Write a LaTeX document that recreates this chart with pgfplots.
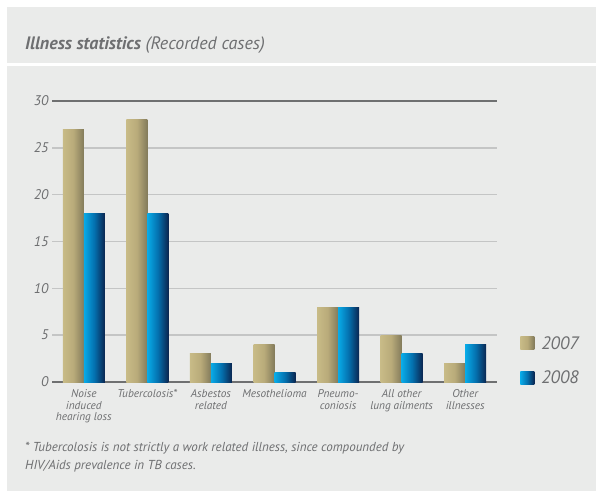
\documentclass[border=0pt]{standalone}
\usepackage{pgfplots}
\pgfplotsset{compat=1.18}
\usepackage{fontspec}
\setmainfont{PT Sans}
\definecolor{bg}{HTML}{EAEBEA}
\definecolor{txt}{HTML}{6E6F71}
\definecolor{goldL}{HTML}{C8BB87}
\definecolor{goldM}{HTML}{B9AB7A}
\definecolor{goldD}{HTML}{837B5B}
\definecolor{blueL}{HTML}{08ABE8}
\definecolor{blueM}{HTML}{0470AE}
\definecolor{blueD}{HTML}{0A2550}
\definecolor{gridc}{HTML}{C4C5C5}
\definecolor{axisc}{HTML}{6F7071}
\pgfplotsset{
  goldbar/.style={draw=none, left color=goldL, right color=goldD, middle color=goldM, bar shift=-10.5pt, forget plot},
  bluebar/.style={draw=none, left color=blueL, right color=blueD, middle color=blueM, bar shift=10.5pt, forget plot},
}
\begin{document}
\begin{tikzpicture}[x=1pt,y=1pt]
\path[use as bounding box] (0,0) rectangle (596,493);
\fill[white] (0,0) rectangle (596,493);
\fill[bg] (7,430) rectangle (596,486);
\fill[bg] (7,2) rectangle (596,427);
\node[anchor=base west, text=txt, font=\fontsize{18}{21}\selectfont\itshape, inner sep=0] at (25,443) {\textbf{Illness statistics} (Recorded cases)};
\node[anchor=base west, text=txt, font=\fontsize{13}{18}\selectfont\itshape, inner sep=0, align=left] at (25,24) {* Tubercolosis is not strictly a work related illness, since compounded by\\HIV/Aids prevalence in TB cases.};
\begin{axis}[
  at={(52pt,111pt)}, anchor=south west, scale only axis,
  width=445pt, height=281pt,
  xmin=-0.5, xmax=6.5, ymin=0, ymax=30,
  ybar, bar width=21pt,
  axis line style={draw=none}, major tick length=0pt,
  ytick={0,5,...,30},
  ymajorgrids, grid style={gridc, line width=1.5pt},
  extra y ticks={0,30}, extra y tick labels={},
  extra y tick style={grid style={axisc, line width=2.6pt}},
  /pgf/number format/assume math mode=true,
  yticklabel style={font=\fontsize{14}{14}\selectfont\itshape, text=txt},
  xtick={0,...,6},
  xticklabels={{Noise\\induced\\hearing loss},{Tubercolosis*},{Asbestos\\related},{Mesothelioma},{Pneumo-\\coniosis},{All other\\lung ailments},{Other\\illnesses}},
  xticklabel style={font=\fontsize{11.3}{11.7}\selectfont\itshape, text=txt, align=center, anchor=north, yshift=-4pt},
  legend style={at={(1.052,0.0765)}, anchor=west, draw=none, fill=none,
    font=\fontsize{18}{18}\selectfont\itshape, text=txt, row sep=16pt, inner sep=0pt},
  legend cell align=left,
]
% 2007
\addplot[goldbar, forget plot=false,
  legend image code/.code={\shade[left color=goldL, right color=goldD, middle color=goldM] (0pt,-6.5pt) rectangle (14pt,6.5pt);}]
  coordinates {(0,27)};
\addplot[bluebar, forget plot=false,
  legend image code/.code={\shade[left color=blueL, right color=blueD, middle color=blueM] (0pt,-6.5pt) rectangle (14pt,6.5pt);}]
  coordinates {(0,18)};
\addplot[goldbar] coordinates {(1,28)};
\addplot[goldbar] coordinates {(2,3)};
\addplot[goldbar] coordinates {(3,4)};
\addplot[goldbar] coordinates {(4,8)};
\addplot[goldbar] coordinates {(5,5)};
\addplot[goldbar] coordinates {(6,2)};
\addplot[bluebar] coordinates {(1,18)};
\addplot[bluebar] coordinates {(2,2)};
\addplot[bluebar] coordinates {(3,1)};
\addplot[bluebar] coordinates {(4,8)};
\addplot[bluebar] coordinates {(5,3)};
\addplot[bluebar] coordinates {(6,4)};
\legend{\hspace{5pt}2007,\hspace{5pt}2008}
\end{axis}
\end{tikzpicture}
\end{document}
